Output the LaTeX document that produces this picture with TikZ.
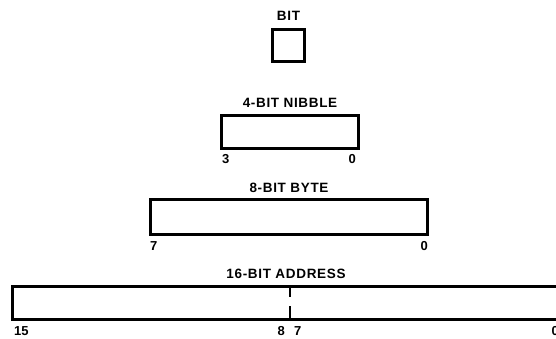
\documentclass[tikz,border=0pt]{standalone}
\usepackage{fontspec}
\setmainfont{Liberation Sans}
\newfontfamily\regfont[LetterSpace=5]{Liberation Sans}
\usetikzlibrary{positioning}

\begin{document}
\begin{tikzpicture}[x=1pt,y=-1pt]
\tikzset{
  regbox/.style={draw=black,line width=3pt,inner sep=0pt,line join=miter},
  regtitle/.style={inner sep=0pt,font=\regfont\fontsize{13.5}{15}\selectfont\bfseries},
  bitnum/.style={inner sep=0pt,font=\fontsize{13}{15}\selectfont\bfseries},
  divider/.style={draw=black,line width=2pt,dash pattern=on 12pt off 9pt on 14pt}
}
\useasboundingbox (0,0) rectangle (556,338);
\clip (0,0) rectangle (556,338);
\node[regbox,minimum width=32pt,minimum height=32pt] (bit) at (288.5,45) {};
\node[regbox,minimum width=137pt,minimum height=33pt] (nib) at (290,132) {};
\node[regbox,minimum width=277pt,minimum height=35pt] (byte) at (289,217) {};
\node[regbox,minimum width=547pt,minimum height=33pt] (addr) at (286,303) {};
% titles
\node[regtitle,above=7pt of bit] (bit_t) {BIT};
\node[regtitle,above=6pt of nib] (nib_t) {4-BIT NIBBLE};
\node[regtitle,above=5pt of byte] (byte_t) {8-BIT BYTE};
\node[regtitle,above=6pt of addr] (addr_t) {16-BIT ADDRESS};
% bit numbers
\node[bitnum,below right=4pt and 2pt of nib.south west] (nib_hi) {3};
\node[bitnum,below left=4pt and 4pt of nib.south east] (nib_lo) {0};
\node[bitnum,below right=5pt and 1pt of byte.south west] (byte_hi) {7};
\node[bitnum,below left=5pt and 1pt of byte.south east] (byte_lo) {0};
\node[bitnum,below right=5pt and 3pt of addr.south west] (addr_hi) {15};
\node[bitnum,below left=5pt and 2pt of addr.south east] (addr_lo) {0};
\coordinate (mid) at (290,303);
\draw[divider] (mid |- addr.north) -- (mid |- addr.south);
\node[bitnum,below left=5pt and 5pt of mid |- addr.south] (addr_8) {8};
\node[bitnum,below right=5pt and 4pt of mid |- addr.south] (addr_7) {7};
\end{tikzpicture}
\end{document}
